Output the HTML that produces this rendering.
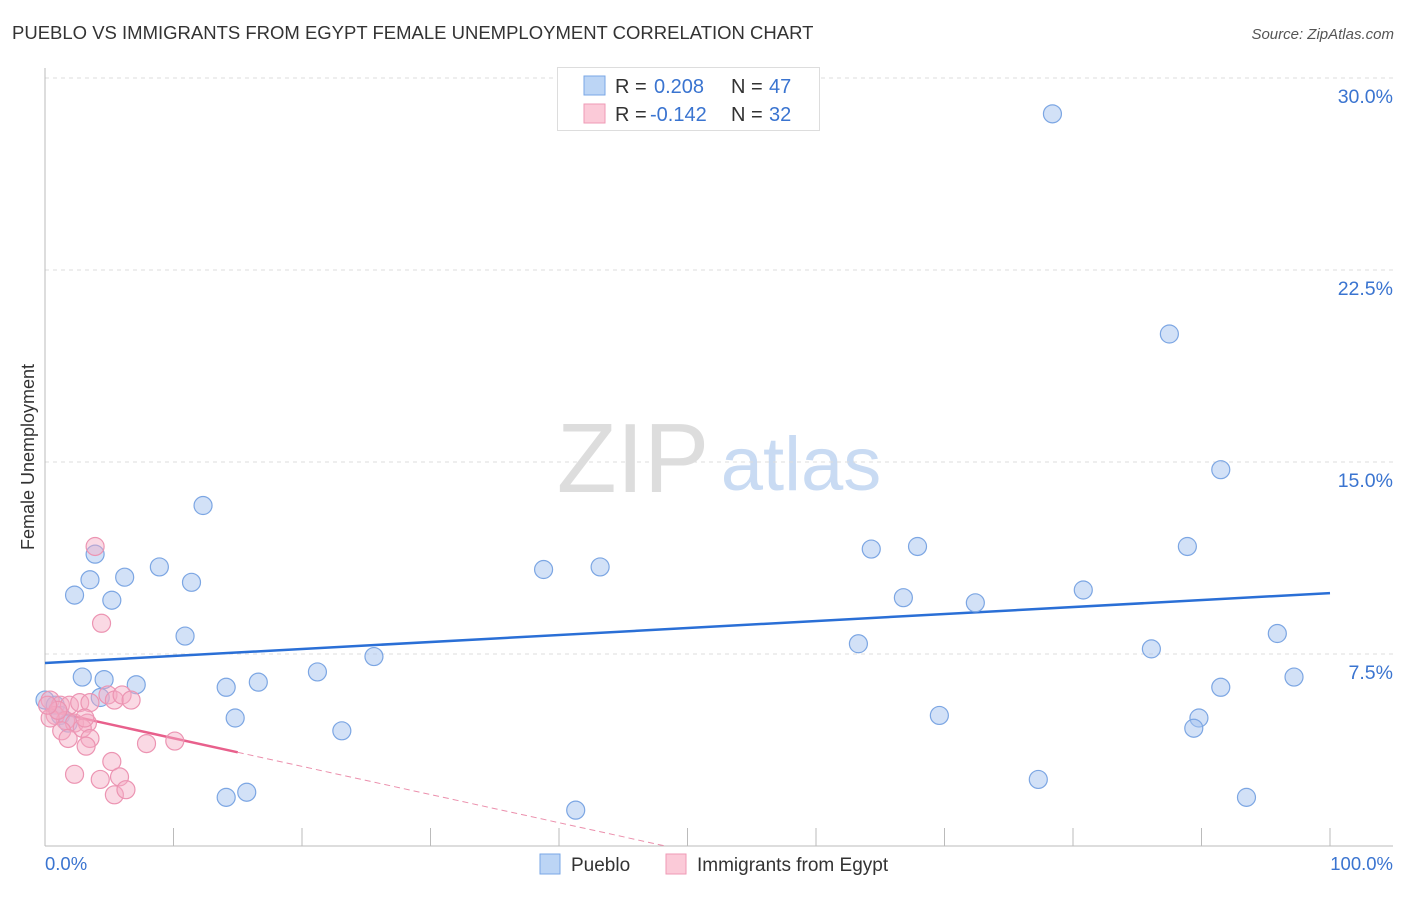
<!DOCTYPE html>
<html><head><meta charset="utf-8"><style>
body{margin:0;background:#fff;font-family:"Liberation Sans",sans-serif;}
svg text{font-family:"Liberation Sans",sans-serif;}
</style></head><body>
<svg id="chart" width="1406" height="892" viewBox="0 0 1406 892">
<text x="12" y="39" font-size="18.5" fill="#333">PUEBLO VS IMMIGRANTS FROM EGYPT FEMALE UNEMPLOYMENT CORRELATION CHART</text>
<text x="1394" y="39" font-size="15" fill="#555" font-style="italic" text-anchor="end">Source: ZipAtlas.com</text>
<text x="34" y="457" font-size="18" fill="#333" text-anchor="middle" transform="rotate(-90 34 457)">Female Unemployment</text>
<g>
<text x="633" y="492" font-size="98" fill="#ddd" font-family="Liberation Serif,serif" text-anchor="middle">ZIP</text>
<text x="801" y="490" font-size="76" fill="#c9dbf3" text-anchor="middle">atlas</text>
</g>
<g id="grid"></g>
<g id="axes"></g>
<g id="trend"></g>
<g id="pts"></g>
<g>
<rect x="557.5" y="67.5" width="262" height="63" fill="#fff" stroke="#ddd"/>
<rect x="584" y="76" width="21" height="19" fill="#bcd5f5" stroke="#7aa7e6"/>
<rect x="584" y="104" width="21" height="19" fill="#fbcad8" stroke="#ef9ab6"/>
<text x="615" y="93" font-size="20" fill="#333">R = </text><text x="654" y="93" font-size="20" fill="#3a74d0">0.208</text>
<text x="731" y="93" font-size="20" fill="#333">N = </text><text x="769" y="93" font-size="20" fill="#3a74d0">47</text>
<text x="615" y="121" font-size="20" fill="#333">R = </text><text x="650" y="121" font-size="20" fill="#3a74d0">-0.142</text>
<text x="731" y="121" font-size="20" fill="#333">N = </text><text x="769" y="121" font-size="20" fill="#3a74d0">32</text>
</g>
<g>
<rect x="540" y="854" width="20" height="20" fill="#bcd5f5" stroke="#7aa7e6"/>
<text x="571" y="871" font-size="19" fill="#333">Pueblo</text>
<rect x="666" y="854" width="20" height="20" fill="#fbcad8" stroke="#ef9ab6"/>
<text x="697" y="871" font-size="19" fill="#333">Immigrants from Egypt</text>
</g>
</svg>
<script>
const yTicks=[7.5,15,22.5,30];
const yTickLabels=["7.5%","15.0%","22.5%","30.0%"];
const xTicks=[0,10,20,30,40,50,60,70,80,90,100];
const puebloX=[78.4,87.5,91.5,12.3,3.9,8.9,6.2,3.5,11.4,2.3,5.2,38.8,43.2,64.3,67.9,88.9,10.9,80.8,66.8,72.4,95.9,63.3,86.1,21.2,25.6,2.9,4.6,7.1,14.1,16.6,97.2,91.5,4.3,0,14.8,69.6,89.8,89.4,23.1,14.1,15.7,41.3,77.3,93.5,0.8,1.2,1.8];
const puebloY=[28.6,20.0,14.7,13.3,11.4,10.9,10.5,10.4,10.3,9.8,9.6,10.8,10.9,11.6,11.7,11.7,8.2,10.0,9.7,9.5,8.3,7.9,7.7,6.8,7.4,6.6,6.5,6.3,6.2,6.4,6.6,6.2,5.8,5.7,5.0,5.1,5.0,4.6,4.5,1.9,2.1,1.4,2.6,1.9,5.5,5.1,4.8];
const egyptX=[3.9,4.4,0.4,1.2,1.9,2.7,3.5,4.9,5.4,6.0,6.7,0.8,1.6,2.3,3.3,1.3,1.8,2.9,3.5,3.2,7.9,10.1,5.2,2.3,4.3,5.8,5.4,6.3,0.4,1.0,3.1,0.2];
const egyptY=[11.7,8.7,5.7,5.5,5.5,5.6,5.6,5.9,5.7,5.9,5.7,5.1,4.9,4.8,4.8,4.5,4.2,4.6,4.2,3.9,4.0,4.1,3.3,2.8,2.6,2.7,2.0,2.2,5.0,5.3,5.0,5.5];
const puebloTrend=[7.15,9.88];
const egyptTrend=[5.31,-0.11];
const egyptSolidEnd=15;
const X=v=>45+v*12.85, Y=v=>846-v*25.6;
const NS="http://www.w3.org/2000/svg";
function mk(tag,attrs,parent){const e=document.createElementNS(NS,tag);for(const k in attrs)e.setAttribute(k,attrs[k]);document.getElementById(parent).appendChild(e);return e;}
yTicks.forEach((t,i)=>{
 const l=mk('line',{x1:45,x2:1393,y1:Y(t),y2:Y(t),stroke:'#ddd','stroke-dasharray':'4,4'},'grid');
 
 
 const tx=mk('text',{x:1393,y:Y(t)+25,'font-size':19.5,fill:'#3a74d0','text-anchor':'end'},'grid');
 tx.textContent=yTickLabels[i];
 
 
});
let a=mk('line',{x1:45,x2:45,y1:68,y2:846,stroke:'#bbb'},'axes');


a=mk('line',{x1:45,x2:1393,y1:846,y2:846,stroke:'#bbb'},'axes');


xTicks.forEach(t=>{
 const l=mk('line',{x1:X(t),x2:X(t),y1:828,y2:846,stroke:'#bbb'},'axes');
 
 
});
let t0=mk('text',{x:45,y:870,'font-size':18.5,fill:'#3a74d0'},'axes');t0.textContent='0.0%';


let t1=mk('text',{x:1393,y:870,'font-size':18.5,fill:'#3a74d0','text-anchor':'end'},'axes');t1.textContent='100.0%';


puebloX.forEach((v,i)=>{
 const c=mk('circle',{cx:X(v),cy:Y(puebloY[i]),r:9,fill:'rgba(165,196,240,0.5)',stroke:'#7ca6e3','stroke-width':1.2},'pts');
 
 
});
egyptX.forEach((v,i)=>{
 const c=mk('circle',{cx:X(v),cy:Y(egyptY[i]),r:9,fill:'rgba(245,170,195,0.45)',stroke:'#ec94b2','stroke-width':1.2},'pts');
 
 
});
let tl=mk('line',{x1:X(0),y1:Y(puebloTrend[0]),x2:X(100),y2:Y(puebloTrend[1]),stroke:'#2a6fd6','stroke-width':2.5},'trend');


const ey=x=>egyptTrend[0]+egyptTrend[1]*x;
const zeroX=-egyptTrend[0]/egyptTrend[1];
tl=mk('line',{x1:X(0),y1:Y(ey(0)),x2:X(egyptSolidEnd),y2:Y(ey(egyptSolidEnd)),stroke:'#e8608c','stroke-width':2.5},'trend');


tl=mk('line',{x1:X(egyptSolidEnd),y1:Y(ey(egyptSolidEnd)),x2:X(zeroX),y2:Y(0),stroke:'#eb8fac','stroke-width':1,'stroke-dasharray':'6,4'},'trend');


</script>
</body></html>
